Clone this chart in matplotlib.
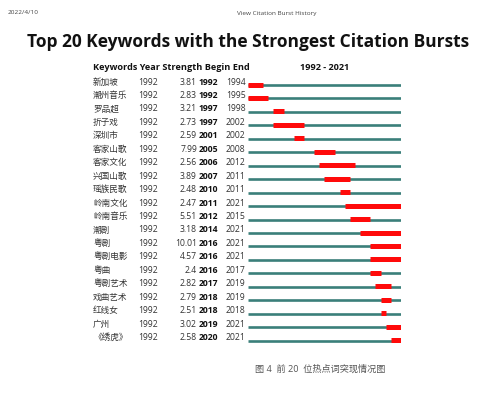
import matplotlib
matplotlib.use("Agg")
import matplotlib.pyplot as plt
from matplotlib.transforms import blended_transform_factory

keywords = ["新加坡", "潮州音乐", "罗品超", "折子戏", "深圳市", "客家山歌", "客家文化",
            "兴国山歌", "瑶族民歌", "岭南文化", "岭南音乐", "潮剧", "粤剧", "粤剧电影",
            "粤曲", "粤剧艺术", "戏曲艺术", "红线女", "广州", "《绣虎》"]
year = [1992] * 20
strength = [3.81, 2.83, 3.21, 2.73, 2.59, 7.99, 2.56, 3.89, 2.48, 2.47,
            5.51, 3.18, 10.01, 4.57, 2.4, 2.82, 2.79, 2.51, 3.02, 2.58]
begin = [1992, 1992, 1997, 1997, 2001, 2005, 2006, 2007, 2010, 2011,
         2012, 2014, 2016, 2016, 2016, 2017, 2018, 2018, 2019, 2020]
end = [1994, 1995, 1998, 2002, 2002, 2008, 2012, 2011, 2011, 2021,
       2015, 2021, 2021, 2021, 2017, 2019, 2019, 2018, 2021, 2021]
start_year, end_year = 1992, 2021

W, H = 482, 395
TEAL = "#3a7f7a"
RED = "#ff0a0a"
FONT = ["Open Sans", "Noto Sans CJK SC", "DejaVu Sans"]
plt.rcParams["font.family"] = FONT

fig = plt.figure(figsize=(W / 100, H / 100), dpi=100)
fig.patch.set_facecolor("white")

# bar area in pixels
x0, x1 = 248, 401
row0, rowstep = 85, 13.45
ytop, ybot = 76, 348
n = len(keywords)
ax = fig.add_axes([x0 / W, 1 - ybot / H, (x1 - x0) / W, (ybot - ytop) / H])
ax.set_xlim(start_year, end_year + 1)
ax.set_ylim((ybot - row0) / rowstep, -(row0 - ytop) / rowstep)
ax.axis("off")

for i in range(n):
    ax.plot([start_year, end_year + 1], [i, i], color=TEAL, lw=1.9,
            solid_capstyle="butt")
    ax.plot([begin[i], end[i] + 1], [i - 0.03, i - 0.03], color=RED, lw=3.6,
            solid_capstyle="butt")

tr = blended_transform_factory(fig.transFigure, ax.transData)
txt = "#333333"
fs = 6.2
for i in range(n):
    y = i - 0.22
    ax.text(93 / W, y, keywords[i], transform=tr, fontsize=fs, color=txt,
            va="center", ha="left")
    ax.text(138 / W, y, str(year[i]), transform=tr, fontsize=fs, color=txt,
            va="center", ha="left")
    ax.text(197 / W, y, f"{strength[i]:g}", transform=tr, fontsize=fs, color=txt,
            va="center", ha="right")
    ax.text(199 / W, y, str(begin[i]), transform=tr, fontsize=fs, color="#111111",
            va="center", ha="left", fontweight="bold")
    ax.text(226 / W, y, str(end[i]), transform=tr, fontsize=fs, color=txt,
            va="center", ha="left")

hy = -(row0 - 68) / rowstep
ax.text(93 / W, hy, "Keywords Year Strength Begin End", transform=tr,
        fontsize=6.55, fontweight="bold", color="#111111", va="center", ha="left")
ax.text((x0 + x1) / 2 / W, hy, f"{start_year} - {end_year}", transform=tr,
        fontsize=6.55, fontweight="bold", color="#111111", va="center", ha="center")

fig.text(248.5 / W, 1 - 42 / H, "Top 20 Keywords with the Strongest Citation Bursts",
         fontsize=12.5, fontweight="bold", color="#111111", ha="center", va="center")
fig.text(8 / W, 1 - 13 / H, "2022/4/10", fontsize=4.6, color="#444444",
         ha="left", va="center")
fig.text(277 / W, 1 - 13 / H, "View Citation Burst History", fontsize=4.6,
         color="#444444", ha="center", va="center")
fig.text(255 / W, 1 - 369 / H, "图 4  前 20  位热点词突现情况图", fontsize=6.6,
         color="#555555", ha="left", va="center")

fig.savefig("out.png", dpi=100, facecolor="white")
